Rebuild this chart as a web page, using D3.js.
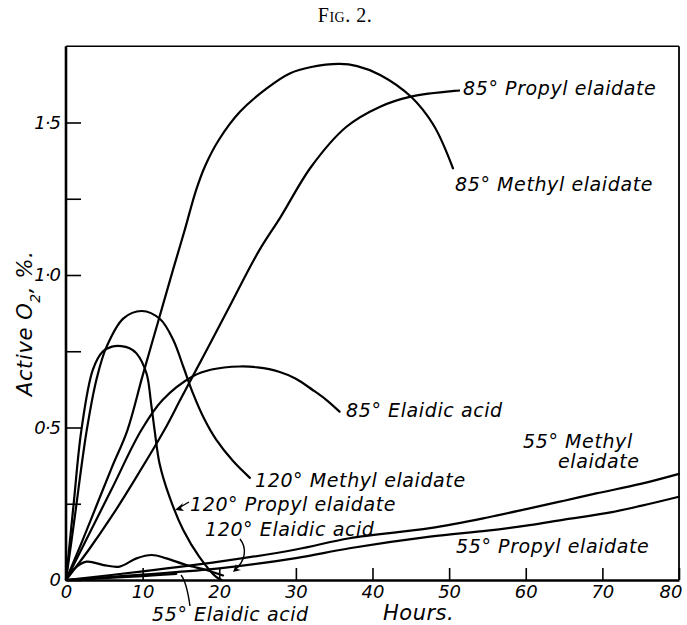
<!DOCTYPE html>
<html>
<head>
<meta charset="utf-8">
<script src="https://cdn.jsdelivr.net/npm/d3@7"></script>
<style>
  html, body { margin: 0; padding: 0; background: #fff; }
  svg { display: block; }
  .lbl { font-family: "DejaVu Sans", sans-serif; font-style: italic; fill: #000; }
</style>
</head>
<body>
<svg id="chart" width="687" height="625"></svg>
<script>
// ---- data (hours, active O2 %) ----
const xTickValues = [0, 10, 20, 30, 40, 50, 60, 70, 80];
const yTickValues = [0, 0.25, 0.5, 0.75, 1.0, 1.25, 1.5];
const yTickLabels = {0: "0", 0.5: "0·5", 1: "1·0", 1.5: "1·5"};

const m85Hours = [0, 2, 4, 6, 8, 10, 12, 14, 15.5, 17, 18.2, 20, 22.7, 26.2, 29.2, 32, 35.7, 38, 41, 45, 48, 50.5];
const m85Vals  = [0, 0.12, 0.245, 0.37, 0.49, 0.67, 0.845, 1.02, 1.148, 1.28, 1.36, 1.445, 1.535, 1.612, 1.661, 1.682, 1.692, 1.685, 1.656, 1.585, 1.49, 1.35];

const p85Hours = [0, 3, 6, 9, 12.8, 15, 18, 21, 25.2, 28, 32, 36.6, 41, 45, 50.7];
const p85Vals  = [0, 0.1, 0.21, 0.33, 0.49, 0.595, 0.737, 0.88, 1.08, 1.19, 1.355, 1.486, 1.552, 1.585, 1.604];

const e85Hours = [0, 3, 6, 9.8, 12.6, 16.5, 19, 22.7, 25, 27.8, 30, 32.2, 34, 35.7];
const e85Vals  = [0, 0.15, 0.3, 0.49, 0.59, 0.667, 0.69, 0.70, 0.697, 0.683, 0.66, 0.623, 0.59, 0.552];

const m120Hours = [0, 1, 2.7, 4, 5.3, 7.5, 9.9, 12.3, 14, 15.3, 16.6, 18, 19.6, 21.8, 24];
const m120Vals  = [0, 0.18, 0.49, 0.66, 0.765, 0.858, 0.882, 0.855, 0.787, 0.70, 0.61, 0.53, 0.46, 0.39, 0.335];

const p120Hours = [0, 1, 2, 3.5, 4.8, 6, 7.2, 8.3, 9.2, 10.5, 11.1, 11.57, 12.2, 13.5, 15.3, 17.4, 19.6, 20.3];
const p120Vals  = [0, 0.25, 0.49, 0.689, 0.749, 0.765, 0.767, 0.76, 0.743, 0.678, 0.58, 0.49, 0.383, 0.273, 0.164, 0.076, 0.01, 0];

const e120Hours = [0, 1, 2.7, 4.9, 7, 9.2, 11.2, 13.1, 15.7, 18.3, 20.5];
const e120Vals  = [0, 0.035, 0.06, 0.049, 0.044, 0.071, 0.082, 0.071, 0.049, 0.033, 0.015];

const m55Hours = [0, 10, 20, 30, 37, 47.5, 55, 60.5, 65, 69.2, 75, 80];
const m55Vals  = [0, 0.028, 0.06, 0.1, 0.137, 0.17, 0.205, 0.235, 0.26, 0.284, 0.315, 0.348];

const p55Hours = [0, 10, 20, 30, 37, 47.5, 55, 60.5, 65, 70.5, 75, 80];
const p55Vals  = [0, 0.018, 0.038, 0.072, 0.104, 0.142, 0.162, 0.18, 0.198, 0.219, 0.243, 0.273];

const e55Hours = [0, 5, 10, 14.4];
const e55Vals  = [0, 0.006, 0.013, 0.02];

const seriesList = [
  {name: "85° Methyl elaidate", h: m85Hours, v: m85Vals},
  {name: "85° Propyl elaidate", h: p85Hours, v: p85Vals},
  {name: "85° Elaidic acid", h: e85Hours, v: e85Vals},
  {name: "120° Methyl elaidate", h: m120Hours, v: m120Vals},
  {name: "120° Propyl elaidate", h: p120Hours, v: p120Vals},
  {name: "120° Elaidic acid", h: e120Hours, v: e120Vals},
  {name: "55° Methyl elaidate", h: m55Hours, v: m55Vals},
  {name: "55° Propyl elaidate", h: p55Hours, v: p55Vals},
  {name: "55° Elaidic acid", h: e55Hours, v: e55Vals}
];

// ---- drawing ----
const svg = d3.select("#chart");
const x = d3.scaleLinear().domain([0, 80]).range([66, 679]);
const y = d3.scaleLinear().domain([0, 1.75]).range([580, 46.25]);

// Title
svg.append("text")
  .attr("x", 345).attr("y", 22)
  .attr("text-anchor", "middle")
  .style("font-family", "'Liberation Serif', 'DejaVu Serif', serif")
  .style("font-variant", "small-caps")
  .style("font-size", "20px")
  .style("letter-spacing", "0.5px")
  .text("Fig. 2.");

// frame top/right
svg.append("line").attr("x1", x(0)).attr("x2", x(80)).attr("y1", y(1.75)).attr("y2", y(1.75))
  .attr("stroke", "#000").attr("stroke-width", 1.6);
svg.append("line").attr("x1", x(80)).attr("x2", x(80)).attr("y1", y(1.75)).attr("y2", y(0))
  .attr("stroke", "#000").attr("stroke-width", 1.8);

// x axis
const xAxis = d3.axisBottom(x).tickValues(xTickValues).tickSizeInner(-12).tickSizeOuter(0).tickPadding(5)
  .tickFormat(d => String(d));
const gx = svg.append("g").attr("transform", `translate(0,${y(0)})`).call(xAxis);
gx.select(".domain").attr("stroke-width", 2.6);
gx.selectAll(".tick line").attr("stroke-width", 1.6);
gx.selectAll(".tick text").attr("class", "lbl").style("font-size", "18px").attr("fill", "#000");
gx.selectAll(".tick text").filter(d => d === 80).attr("text-anchor", "end").attr("x", 3);

// y axis
const yAxis = d3.axisLeft(y).tickValues(yTickValues).tickSizeInner(-15).tickSizeOuter(0).tickPadding(6)
  .tickFormat(d => yTickLabels[d] !== undefined ? yTickLabels[d] : "");
const gy = svg.append("g").attr("transform", `translate(${x(0)},0)`).call(yAxis);
gy.select(".domain").attr("stroke-width", 2.6).attr("d", `M0,${y(0)}V${y(1.75)}`);
gy.selectAll(".tick line").attr("stroke-width", 1.6);
gy.selectAll(".tick text").attr("class", "lbl").style("font-size", "18px")
  .style("letter-spacing", "-1px").attr("fill", "#000");

// axis titles
svg.append("text").attr("class", "lbl")
  .attr("transform", "translate(32,396) rotate(-90)")
  .attr("text-anchor", "start")
  .style("font-size", "21px")
  .style("letter-spacing", "0.6px")
  .html('Active O<tspan baseline-shift="sub" font-size="14px">2</tspan>, %.');
svg.append("text").attr("class", "lbl").attr("x", 383).attr("y", 620)
  .style("font-size", "21px").style("letter-spacing", "0.5px").text("Hours.");

// curves
const line = d3.line().x(d => x(d[0])).y(d => y(d[1])).curve(d3.curveCatmullRom.alpha(0.5));
svg.append("g").selectAll("path").data(seriesList).join("path")
  .attr("d", s => line(s.h.map((h, i) => [h, s.v[i]])))
  .attr("fill", "none").attr("stroke", "#000").attr("stroke-width", 2.2)
  .attr("stroke-linejoin", "round").attr("stroke-linecap", "round");

// curve labels
const labels = [
  {t: "85° Propyl elaidate", x: 463, y: 95},
  {t: "85° Methyl elaidate", x: 455, y: 191},
  {t: "85° Elaidic acid", x: 346, y: 417},
  {t: "120° Methyl elaidate", x: 255, y: 487},
  {t: "120° Propyl elaidate", x: 190, y: 511},
  {t: "120° Elaidic acid", x: 205, y: 536},
  {t: "55° Methyl", x: 523, y: 448},
  {t: "elaidate", x: 558, y: 468},
  {t: "55° Propyl elaidate", x: 456, y: 553},
  {t: "55° Elaidic acid", x: 152, y: 621}
];
svg.append("g").selectAll("text").data(labels).join("text")
  .attr("class", "lbl").attr("x", d => d.x).attr("y", d => d.y)
  .style("font-size", "19px").style("letter-spacing", "0.6px").text(d => d.t);

// label connectors
const conn = svg.append("g").attr("fill", "none").attr("stroke", "#000").attr("stroke-width", 1.4);
// 85 propyl leader
conn.append("path").attr("d", `M${x(50.7)},${y(1.604)} L460,${y(1.605)}`).attr("stroke-width", 2.2);
// 120 propyl arrow
conn.append("path").attr("d", "M189,502 L177,509");
svg.append("path").attr("d", "M175,510 L183,503 L181,508 L184,511 Z").attr("fill", "#000");
// 120 elaidic pointer
conn.append("path").attr("d", "M240,539 C247,548 246,560 235,570");
svg.append("path").attr("d", "M233,572 L236,564 L237,569 L241,570 Z").attr("fill", "#000");
// 55 elaidic pointer
conn.append("path").attr("d", "M181,575 C186,581 188,592 190,606");
</script>
</body>
</html>
